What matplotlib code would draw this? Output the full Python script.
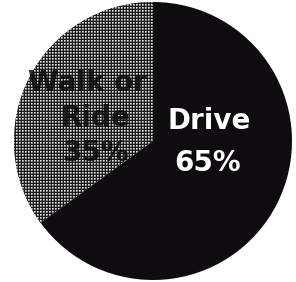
import numpy as np
import matplotlib
matplotlib.use("Agg")
import matplotlib.pyplot as plt

labels = ["Drive", "Walk or\nRide"]
values = [65, 35]
label_texts = ["Drive", "Walk or\nRide"]

W, H, DPI = 296, 282, 100
fig = plt.figure(figsize=(W / DPI, H / DPI), dpi=DPI)
ax = fig.add_axes([0, 0, 1, 1])
ax.set_axis_off()

cx, cy, r = 153, 141, 139

# Walk slice starts at top and runs counterclockwise; Drive fills the rest
wedges, _ = ax.pie([values[1], values[0]], startangle=90, counterclock=True,
                   colors=["#3a3a3a", "#0e0c0f"], radius=1.0,
                   wedgeprops=dict(linewidth=0))
ax.set_aspect("auto")
ax.set_xlim(-cx / r, (W - cx) / r)
ax.set_ylim(-(H - cy) / r, cy / r)

# halftone texture for the Walk/Ride slice
tile = np.array([[0.10, 0.12, 0.10],
                 [0.12, 0.88, 0.62],
                 [0.10, 0.62, 0.45]])
tex = np.tile(tile, (H // 3 + 1, W // 3 + 1))[:H, :W]
im = ax.imshow(tex, cmap="gray", vmin=0, vmax=1, interpolation="nearest",
               extent=(-cx / r, (W - cx) / r, -(H - cy) / r, cy / r),
               zorder=3)
im.set_clip_path(wedges[0])

def px(x, y):
    return (x - cx) / r, (cy - y) / r

font = "DejaVu Sans"
ax.text(*px(209, 121), "Drive", color="white", fontsize=20, fontweight="bold",
        ha="center", va="center", family=font, zorder=5)
ax.text(*px(208, 163), f"{values[0]}%", color="white", fontsize=20,
        fontweight="bold", ha="center", va="center", family=font, zorder=5)

walk_lines = label_texts[1].split("\n") + [f"{values[1]}%"]
walk_pos = [(87, 83), (95, 118), (96, 153)]
for t, (x, y) in zip(walk_lines, walk_pos):
    ax.text(*px(x, y), t, color="#0a0a0a", fontsize=20, fontweight="bold",
            ha="center", va="center", family=font, zorder=5, alpha=0.85)

fig.savefig("out.png", dpi=DPI)
